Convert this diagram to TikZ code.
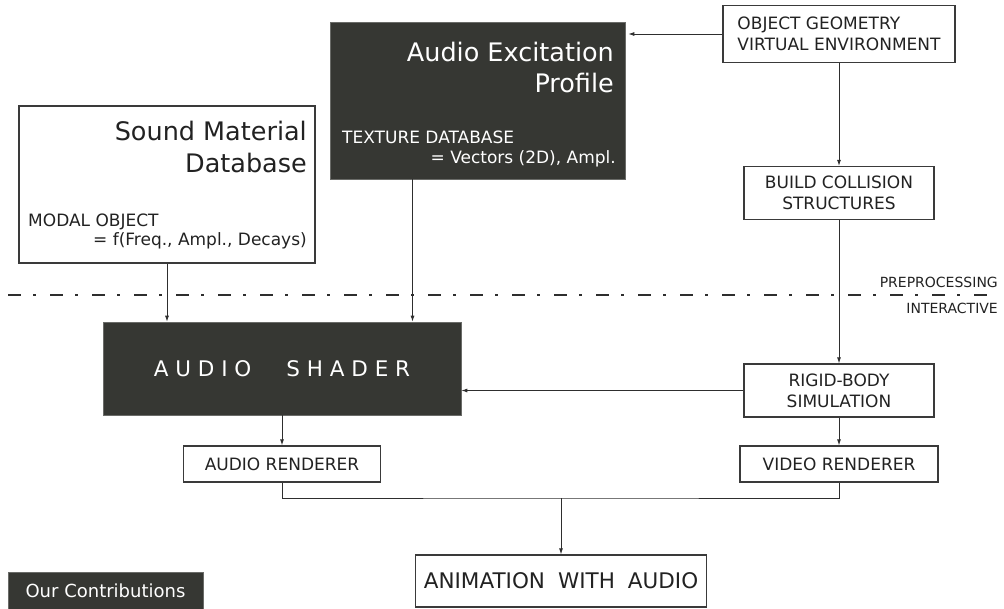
\documentclass[tikz,border=0pt]{standalone}
\usepackage{fontspec}
\setmainfont{DejaVu Sans}
\usepackage{tikz}
\usetikzlibrary{positioning, calc, arrows.meta}
\definecolor{ShadeDark}{HTML}{363733}
\definecolor{ShadeEdge}{HTML}{6A6B68}
\definecolor{EdgeGray}{HTML}{3A3A3A}
\definecolor{WireGray}{HTML}{2E2E2E}
\definecolor{InkGray}{HTML}{222222}
\newcommand{\sizeBody}{\fontsize{17}{21}\selectfont}
\newcommand{\sizeHead}{\fontsize{25.5}{31.5}\selectfont}
\newcommand{\sizeWide}{\fontsize{21.5}{26}\selectfont}
\newcommand{\sizeStage}{\fontsize{14}{17}\selectfont}
\newcommand{\sizeKey}{\fontsize{18}{22}\selectfont}

\begin{document}
\begin{tikzpicture}[x=1pt, y=-1pt, every node/.style={inner sep=0pt, text=InkGray},
  box/.style={draw=EdgeGray, line width=1.2pt, fill=white, font=\sizeBody, align=center},
  darkbox/.style={fill=ShadeDark, draw=ShadeEdge, line width=0.6pt, text=white, font=\sizeBody},
  wire/.style={draw=WireGray, line width=0.9pt},
  arr/.style={wire, -{Latex[length=6pt,width=4pt]}}]
  \useasboundingbox (0,0) rectangle (1004,608);

  % stage separator
  \draw[WireGray, line width=2.2pt, dash pattern=on 13pt off 12pt on 3pt off 14pt] (8,295) -- (995,295);
  \node[anchor=base east, font=\sizeStage] (pre) at (998,287) {PREPROCESSING};
  \node[anchor=base east, font=\sizeStage] (inter) at (998,313) {INTERACTIVE};

  % preprocessing
  \node[box, minimum width=296pt, minimum height=157pt] (smd) at (167,184.5) {};
  \node[anchor=base east, font=\sizeHead] (smdA) at (307,140) {Sound Material};
  \node[anchor=base east, font=\sizeHead] (smdB) at (307,172) {Database};
  \node[anchor=base west, font=\sizeBody] (smdC) at (28,226) {MODAL OBJECT};
  \node[anchor=base east, font=\sizeBody] (smdD) at (307,245) {= f(Freq., Ampl., Decays)};

  \node[darkbox, minimum width=295pt, minimum height=157pt] (aep) at (477.5,100.5) {};
  \node[anchor=base east, font=\sizeHead, text=white] (aepA) at (614,61) {Audio Excitation};
  \node[anchor=base east, font=\sizeHead, text=white] (aepB) at (614,92) {Profile};
  \node[anchor=base west, font=\sizeBody, text=white] (aepC) at (342,143) {TEXTURE DATABASE};
  \node[anchor=base east, font=\sizeBody, text=white] (aepD) at (616,163) {= Vectors (2D), Ampl.};

  \node[box, minimum width=232pt, minimum height=57pt, align=left] (geom) at (839,34) {OBJECT GEOMETRY\\VIRTUAL ENVIRONMENT};
  \node[box, minimum width=190pt, minimum height=53pt] (build) at (839,193) {BUILD COLLISION\\STRUCTURES};

  % interactive
  \node[darkbox, minimum width=358pt, minimum height=93pt, font=\sizeWide] (shader) at (282,368.5) {A U D I O\hspace{35pt}S H A D E R};
  \node[box, minimum width=190pt, minimum height=53pt] (rigid) at (839,390.5) {RIGID-BODY\\SIMULATION};
  \node[box, minimum width=197pt, minimum height=36pt] (arend) at (282,464) {AUDIO RENDERER};
  \node[box, minimum width=198pt, minimum height=36pt] (vrend) at (839,464) {VIDEO RENDERER};
  \node[box, minimum width=291pt, minimum height=52pt, font=\sizeWide] (anim) at (561,581) {ANIMATION\hspace{13pt}WITH\hspace{13pt}AUDIO};

  \node[darkbox, minimum width=195pt, minimum height=38pt, font=\sizeKey] (legend) at (105.5,591) {Our Contributions};

  % connectors
  \draw[arr, shorten >=3pt] (geom.west) -- (geom.west -| aep.east);
  \draw[arr] (geom.south) -- (build.north);
  \draw[arr] (build.south) -- (rigid.north);
  \draw[arr] (smd.south) -- (smd.south |- shader.north);
  \draw[arr] ([xshift=-65pt]aep.south) -- ([xshift=-65pt]aep.south |- shader.north);
  \draw[arr] (rigid.west) -- (rigid.west -| shader.east);
  \draw[arr] (shader.south) -- (arend.north);
  \draw[arr] (rigid.south) -- (vrend.north);
  \coordinate (merge) at (561,498);
  \draw[wire] (arend.south) |- (merge) -| (vrend.south);
  \draw[arr] (merge) -- (anim.north);
\end{tikzpicture}
\end{document}
